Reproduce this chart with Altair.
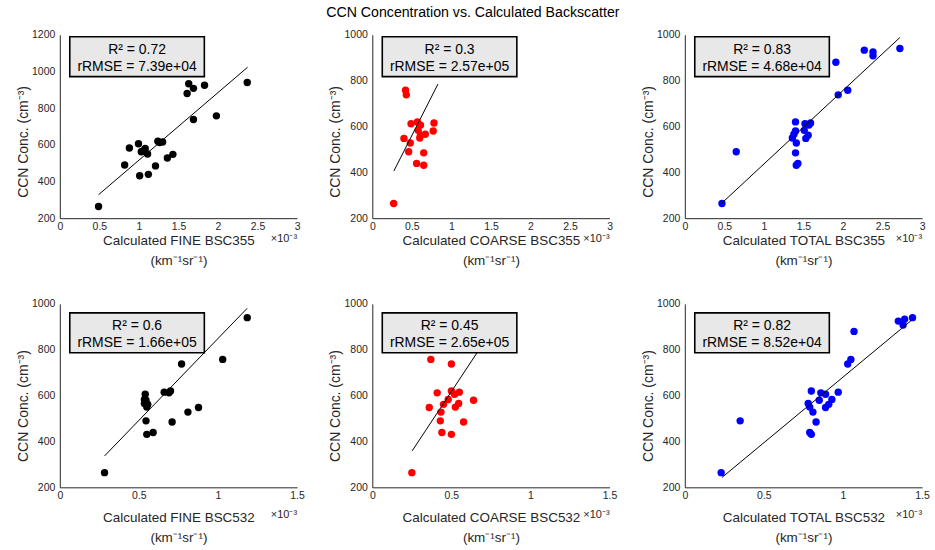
import altair as alt
import pandas as pd

# Shared CCN concentrations (cm^-3) for each sample
ccn = [264, 490, 620, 612, 606, 580, 566, 550, 528, 485, 439, 431,
       615, 583, 562, 548, 880, 738, 758, 925, 933, 908, 940]

# Calculated backscatter (x 10^-3 km^-1 sr^-1)
fine355 = [0.49, 0.82, 1.24, 1.26, 0.995, 1.08, 1.05, 1.11, 1.36, 1.21, 1.12, 1.01,
           1.30, 0.88, 1.03, 1.43, 1.61, 1.69, 1.98, 1.83, 1.63, 1.69, 2.37]
coarse355 = [0.27, 0.46, 0.57, 0.49, 0.61, 0.77, 0.67, 0.60, 0.48, 0.65, 0.56, 0.65,
             0.78, 0.58, 0.61, 0.40, 0.55, 0.43, 0.42, 0.70, 0.50, 0.60, 0.80]
total355 = [0.47, 0.65, 1.40, 1.52, 1.57, 1.40, 1.38, 1.36, 1.41, 1.40, 1.43, 1.41,
            1.59, 1.51, 1.56, 1.53, 1.91, 1.94, 2.06, 2.38, 2.27, 2.38, 2.72]
fine532 = [0.283, 0.545, 0.70, 0.69, 0.54, 0.545, 0.535, 0.55, 0.81, 0.71, 0.59, 0.55,
           0.66, 0.535, 0.556, 0.877, 0.50, 0.77, 1.03, 0.60, 0.70, 0.45, 1.185]
coarse532 = [0.25, 0.43, 0.50, 0.41, 0.52, 0.64, 0.546, 0.525, 0.434, 0.577, 0.44, 0.50,
             0.55, 0.48, 0.45, 0.36, 0.40, 0.50, 0.37, 0.50, 0.45, 0.55, 0.60]
total532 = [0.23, 0.35, 0.80, 0.86, 0.89, 0.85, 0.78, 0.79, 0.81, 0.83, 0.79, 0.80,
            0.97, 0.93, 0.91, 0.89, 1.07, 1.03, 1.05, 1.35, 1.39, 1.38, 1.44]

# Fit line endpoints
fit_p1 = ([0.49, 2.375], [328, 1023])
fit_p2 = ([0.273, 0.83], [406, 785])
fit_p3 = ([0.46, 2.72], [263, 988])
fit_p4 = ([0.283, 1.185], [337, 981])
fit_p5 = ([0.252, 0.67], [359, 795])
fit_p6 = ([0.235, 1.443], [243, 934])

r2_vals = ["0.72", "0.3", "0.83", "0.6", "0.45", "0.82"]
rmse_vals = ["7.39e+04", "2.57e+05", "4.68e+04", "1.66e+05", "2.65e+05", "8.52e+04"]
x_titles = ["Calculated FINE BSC355", "Calculated COARSE BSC355", "Calculated TOTAL BSC355",
            "Calculated FINE BSC532", "Calculated COARSE BSC532", "Calculated TOTAL BSC532"]
x_ticks_355 = [0, 0.5, 1, 1.5, 2, 2.5, 3]
x_ticks_532 = [0, 0.5, 1, 1.5]

W, H = 238, 184
TXT = "#262626"
one = pd.DataFrame({"k": [0]})


def panel(xvals, color, xmax, xticks, ymax, fit, r2, rmse, xtitle, top):
    df = pd.DataFrame({"bsc": xvals, "ccn": ccn})
    xs = alt.Scale(domain=[0, xmax], nice=False, zero=False)
    ys = alt.Scale(domain=[200, ymax], nice=False, zero=False)
    t_first = 26 if top else 34
    xaxis = alt.Axis(values=xticks, format=".1~f", title=[xtitle, "(km⁻¹sr⁻¹)"],
                     titleX=W / 2, titleY=t_first, titleAlign="center",
                     titleBaseline="alphabetic", titleLineHeight=20,
                     labelPadding=3, labelFlush=False)
    yaxis = alt.Axis(values=list(range(200, ymax + 1, 200)), format="d",
                     title="CCN Conc. (cm⁻³)", titleX=-32.5,
                     titleY=107 if top else 102, titleAlign="center",
                     titleBaseline="alphabetic", titleAngle=270, labelPadding=5,
                     labelFlush=False)
    pts = alt.Chart(df).mark_circle(size=55, opacity=1, color=color).encode(
        x=alt.X("bsc:Q", scale=xs, axis=xaxis),
        y=alt.Y("ccn:Q", scale=ys, axis=yaxis),
    )
    fdf = pd.DataFrame({"bsc": fit[0], "ccn": fit[1]})
    line = alt.Chart(fdf).mark_line(color="black", strokeWidth=1).encode(
        x=alt.X("bsc:Q", scale=xs, axis=xaxis),
        y=alt.Y("ccn:Q", scale=ys, axis=yaxis),
    )
    by0 = 2 if top else 9
    box = alt.Chart(one).mark_rect(fill="#e8e8e8", stroke="black", strokeWidth=1.6).encode(
        x=alt.value(10), x2=alt.value(145), y=alt.value(by0), y2=alt.value(by0 + 40)
    )
    t1 = alt.Chart(one).mark_text(fontSize=14, color="black", text=f"R² = {r2}").encode(
        x=alt.value(77.5), y=alt.value(by0 + 13)
    )
    t2 = alt.Chart(one).mark_text(fontSize=14, color="black", text=f"rRMSE = {rmse}").encode(
        x=alt.value(77.5), y=alt.value(by0 + 30)
    )
    exp = alt.Chart(one).mark_text(fontSize=11, color=TXT, align="right",
                                   baseline="alphabetic", text="×10⁻³").encode(
        x=alt.value(W), y=alt.value(H + (24 if top else 31))
    )
    return alt.layer(pts, line, box, t1, t2, exp).properties(width=W, height=H)


panels = [
    panel(fine355, "#000000", 3, x_ticks_355, 1200, fit_p1, r2_vals[0], rmse_vals[0], x_titles[0], True),
    panel(coarse355, "#ff0000", 3, x_ticks_355, 1000, fit_p2, r2_vals[1], rmse_vals[1], x_titles[1], True),
    panel(total355, "#0000ff", 3, x_ticks_355, 1000, fit_p3, r2_vals[2], rmse_vals[2], x_titles[2], True),
    panel(fine532, "#000000", 1.5, x_ticks_532, 1000, fit_p4, r2_vals[3], rmse_vals[3], x_titles[3], False),
    panel(coarse532, "#ff0000", 1.5, x_ticks_532, 1000, fit_p5, r2_vals[4], rmse_vals[4], x_titles[4], False),
    panel(total532, "#0000ff", 1.5, x_ticks_532, 1000, fit_p6, r2_vals[5], rmse_vals[5], x_titles[5], False),
]

chart = alt.concat(
    *panels, columns=3, spacing={"row": 86, "column": 75.5}, bounds="flush"
).properties(
    title=alt.TitleParams("CCN Concentration vs. Calculated Backscatter", anchor="middle",
                          fontSize=14.2, fontWeight="normal", color="black", offset=10),
    padding={"left": 16, "top": 4, "right": 5, "bottom": 5},
).configure(
    font="Liberation Sans"
).configure_view(
    stroke=None
).configure_axis(
    grid=False, ticks=False, tickSize=0,
    domainColor=TXT, domainWidth=1,
    labelColor=TXT, labelFontSize=10.5, labelFont="Liberation Sans",
    titleColor=TXT, titleFontSize=13.5, titleFontWeight="normal", titleFont="Liberation Sans",
).configure_axisLeft(titleFontSize=14).configure_text(font="Liberation Sans").configure_title(font="Liberation Sans")

chart.save("out.html", embed_options={"renderer": "svg", "actions": False})
